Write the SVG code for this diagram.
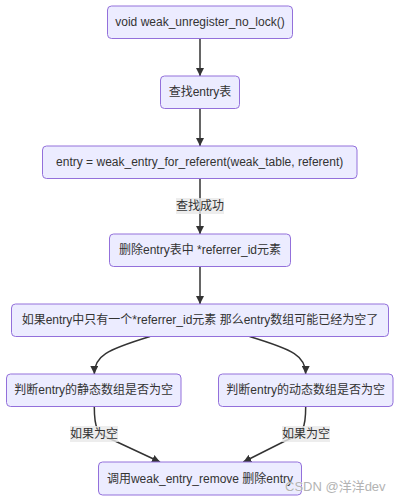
<svg xmlns="http://www.w3.org/2000/svg" width="400" height="501" viewBox="0 0 400 501">
<style>
.node rect{fill:#ECECFF;stroke:#9370DB;stroke-width:1;}
.node text,.lbl text{font-family:"Liberation Sans","Noto Sans CJK SC",sans-serif;font-size:12px;fill:#333;text-anchor:middle;dominant-baseline:central;}
.edge{fill:none;stroke:#333;stroke-width:1.5;marker-end:url(#arr);}
.lbl rect{fill:#e8e8e8;fill-opacity:0.8;}
.wm{font-family:"Liberation Sans","Noto Sans CJK SC",sans-serif;font-size:13px;fill:#b3b3b3;stroke:#fff;stroke-width:0.4;paint-order:stroke;}
</style>
<defs>
<marker id="arr" viewBox="0 0 10 10" refX="10" refY="5" markerWidth="8" markerHeight="8" markerUnits="userSpaceOnUse" orient="auto">
<path d="M0,0 L10,5 L0,10 z" fill="#333"/>
</marker>
</defs>
<rect width="400" height="501" fill="#fff"/>
<g id="connectors">
<path class="edge" d="M200,38.5 L200,76"/>
<path class="edge" d="M200,108.5 L200,146"/>
<path class="edge" d="M200,178.5 L200,234"/>
<path class="edge" d="M200,266.5 L200,304"/>
<path class="edge" d="M150,336.5 C106,350 94.3,356 94.3,374"/>
<path class="edge" d="M249.5,336.5 C294,350 305.7,356 305.7,374"/>
<path class="edge" d="M94.3,406.5 C94.3,428 96,434 115,441 L160,462"/>
<path class="edge" d="M305.7,406.5 C305.7,428 304,434 285,441 L243.3,462"/>
<g class="lbl" id="lbl1"><rect x="176" y="198" width="48" height="16"/><text x="200" y="206">查找成功</text></g>
<g class="lbl" id="lbl2"><rect x="70" y="426" width="48" height="16"/><text x="94" y="434">如果为空</text></g>
<g class="lbl" id="lbl3"><rect x="282" y="426" width="48" height="16"/><text x="306" y="434">如果为空</text></g>
</g>
<g class="node" id="n1"><rect x="107.5" y="6" width="185" height="32.5" rx="4"/><text x="200" y="22.2">void weak_unregister_no_lock()</text></g>
<g class="node" id="n2"><rect x="160.5" y="76" width="79" height="32.5" rx="4"/><text x="200" y="92.3">查找entry表</text></g>
<g class="node" id="n3"><rect x="42.5" y="146" width="314.5" height="32.5" rx="4"/><text x="199.7" y="162.3">entry = weak_entry_for_referent(weak_table, referent)</text></g>
<g class="node" id="n4"><rect x="109.5" y="234" width="181" height="32.5" rx="4"/><text x="200" y="250.2">删除entry表中 *referrer_id元素</text></g>
<g class="node" id="n5"><rect x="11.5" y="304" width="377" height="32.5" rx="4"/><text x="200" y="320.3">如果entry中只有一个*referrer_id元素 那么entry数组可能已经为空了</text></g>
<g class="node" id="n6"><rect x="6.5" y="374" width="174.5" height="32.5" rx="4"/><text x="93.7" y="390.3">判断entry的静态数组是否为空</text></g>
<g class="node" id="n7"><rect x="218.5" y="374" width="174.5" height="32.5" rx="4"/><text x="305.7" y="390.3">判断entry的动态数组是否为空</text></g>
<g class="node" id="n8"><rect x="98.5" y="462" width="203" height="33" rx="4"/><text x="200" y="478.5">调用weak_entry_remove 删除entry</text></g>
<text class="wm" x="285" y="491">CSDN @洋洋dev</text>
</svg>
